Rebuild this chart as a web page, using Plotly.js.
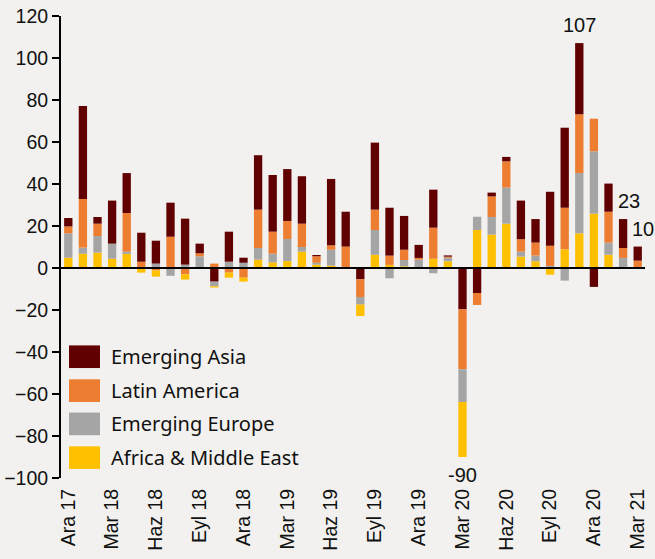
<!DOCTYPE html>
<html>
<head>
<meta charset="utf-8">
<script src="https://cdn.plot.ly/plotly-3.0.1.min.js"></script>
<style>
html,body{margin:0;padding:0;background:#f2f1ef;}
#chart{width:655px;height:559px;}
</style>
</head>
<body>
<div id="chart"></div>
<script>
const months = ["Ara 17","Oca 18","Şub 18","Mar 18","Nis 18","May 18","Haz 18","Tem 18","Ağu 18","Eyl 18","Eki 18","Kas 18",
  "Ara 18","Oca 19","Şub 19","Mar 19","Nis 19","May 19","Haz 19","Tem 19","Ağu 19","Eyl 19","Eki 19","Kas 19",
  "Ara 19","Oca 20","Şub 20","Mar 20","Nis 20","May 20","Haz 20","Tem 20","Ağu 20","Eyl 20","Eki 20","Kas 20",
  "Ara 20","Oca 21","Şub 21","Mar 21"];
const tickLabels = ["Ara 17","Mar 18","Haz 18","Eyl 18","Ara 18","Mar 19","Haz 19","Eyl 19","Ara 19","Mar 20","Haz 20","Eyl 20","Ara 20","Mar 21"];

const africaME = [4.9,6.8,7.3,4.4,6.7,-2.2,-2.9,0.3,-2.5,0,-0.6,-2.4,-1.9,4.0,2.7,3.3,7.8,1.6,1.1,0,
  -5.5,6.3,1.5,0.8,0,4.4,3.2,-26.2,18.1,15.9,21.1,5.4,3.2,-3.2,8.9,16.5,25.9,6.3,0,0];
const emEurope = [11.6,2.9,7.9,7.2,1.1,0,2.1,-3.7,1.6,5.6,-2.2,3.0,2.5,5.5,4.1,10.5,2.2,0.9,7.6,0,
  -3.6,11.8,-4.9,3.0,4.0,-2.5,1.7,-15.6,6.3,8.4,17.2,2.4,2.7,1.0,-6.0,28.7,29.7,5.8,4.8,0];
const latAm = [3.3,23.2,5.9,-0.5,18.4,3.0,-1.2,14.6,-3.0,1.4,2.1,-2.2,-4.6,18.3,10.5,8.6,11.1,3.1,2.1,10.2,
  -8.4,9.7,4.4,4.9,0.8,14.8,0.5,-28.5,-5.7,9.8,12.5,5.9,6.2,9.6,19.8,28.0,15.5,14.7,4.7,3.5];
const emAsia = [4.0,44.2,3.2,20.5,19.0,13.8,10.9,16.2,21.9,4.6,-6.5,14.3,2.4,25.9,27.0,24.7,22.6,0.6,31.6,16.6,
  -5.4,31.9,22.8,16.1,6.2,18.1,0.6,-19.7,-11.9,1.8,2.1,18.4,11.2,25.7,38.1,33.9,-9.0,13.4,13.8,6.7];

const seriesNames = ["Emerging Asia","Latin America","Emerging Europe","Africa & Middle East"];
const seriesColors = ["#600000","#ED7D31","#A5A5A5","#FFC000"];
const seriesValues = [emAsia, latAm, emEurope, africaME];
const labelledBars = ["Mar 20","Kas 20","Şub 21","Mar 21"];

const pos = v => v.map(d => d > 0 ? d : null);
const neg = v => v.map(d => d < 0 ? d : null);

const traces = [];
// positive part: Africa at the bottom, Asia on top
for (let i = seriesValues.length - 1; i >= 0; i--) {
  traces.push({type:'bar', x: months, y: pos(seriesValues[i]), name: seriesNames[i],
    marker:{color: seriesColors[i], line:{width:0}}, showlegend:false, hoverinfo:'x+y+name'});
}
// negative part: Asia nearest to zero
for (let i = 0; i < seriesValues.length; i++) {
  traces.push({type:'bar', x: months, y: neg(seriesValues[i]), name: seriesNames[i],
    marker:{color: seriesColors[i], line:{width:0}}, showlegend:false, hoverinfo:'x+y+name'});
}

const total = m => { const k = months.indexOf(m); return seriesValues.reduce((s, v) => s + v[k], 0); };

const annotations = [];
const labelFont = {family:'"Liberation Sans", Arial, sans-serif', size:20, color:'#111'};
labelledBars.forEach(m => {
  const t = total(m);
  const r = Math.round(t);
  let xs = 0;
  if (m === "Şub 21") xs = 6;
  if (m === "Mar 21") xs = 5;
  annotations.push({x: m, y: t, xref:'x', yref:'y', text: String(r), showarrow:false,
    yanchor: t < 0 ? 'top' : 'bottom', xanchor:'center', yshift: t < 0 ? -5 : 5, xshift: xs, font: labelFont});
});

// custom legend (large swatches)
const shapes = [];
const legTop = [0.287, 0.2136, 0.1416, 0.0686];
const legH = 0.049;
seriesNames.forEach((n, i) => {
  shapes.push({type:'rect', xref:'paper', yref:'paper', x0:0.0137, x1:0.0668, y0: legTop[i]-legH, y1: legTop[i],
    fillcolor: seriesColors[i], line:{width:0}, layer:'above'});
  annotations.push({xref:'paper', yref:'paper', x:0.083, y: legTop[i]-legH/2, xanchor:'left', yanchor:'middle',
    text: n, showarrow:false, font:{family:'"Noto Sans", "DejaVu Sans", sans-serif', size:20, color:'#111'}});
});
// zero line above the bars
shapes.push({type:'line', xref:'paper', yref:'y', x0:0, x1:1, y0:0, y1:0, line:{color:'#000', width:2}, layer:'above'});

const layout = {
  width:655, height:559,
  margin:{l:61, r:10, t:16, b:81, pad:0},
  paper_bgcolor:'#f2f1ef', plot_bgcolor:'#f2f1ef',
  barmode:'relative', bargap:0.43,
  showlegend:false,
  font:{family:'"Liberation Sans", Arial, sans-serif', size:20, color:'#111'},
  xaxis:{type:'category', categoryorder:'array', categoryarray: months, range:[-0.5, 39.5],
    tickmode:'array', tickvals: tickLabels, ticktext: tickLabels, tickangle:-90,
    showline:false, showgrid:false, zeroline:false, ticks:'', ticklabelstandoff:6,
    tickfont:{family:'"Liberation Sans", Arial, sans-serif', size:19.5, color:'#111'}},
  yaxis:{range:[-100,120], tickmode:'linear', tick0:0, dtick:20, ticks:'outside', ticklen:7, tickwidth:2,
    tickcolor:'#000', showline:true, linecolor:'#000', linewidth:2, showgrid:false, zeroline:false,
    tickfont:{family:'"Liberation Sans", Arial, sans-serif', size:19.5, color:'#111'}},
  shapes: shapes,
  annotations: annotations
};

Plotly.newPlot('chart', traces, layout, {displayModeBar:false, staticPlot:true});
</script>
</body>
</html>
